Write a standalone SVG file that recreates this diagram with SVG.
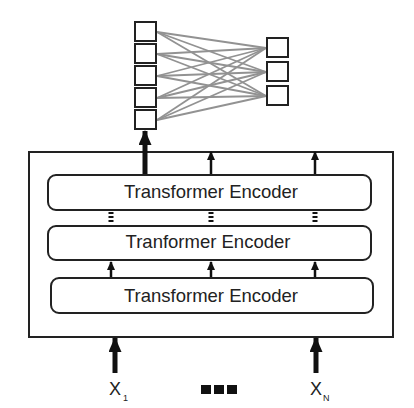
<svg xmlns="http://www.w3.org/2000/svg" width="414" height="408" viewBox="0 0 414 408">
<defs>
<style>
.box{fill:#fff;stroke:#222;stroke-width:2}
.enc{fill:#fff;stroke:#222;stroke-width:2}
.t{font-family:"Liberation Sans",Arial,sans-serif;font-size:18.5px;fill:#222;text-anchor:middle}
.lbl{font-family:"Liberation Sans",Arial,sans-serif;font-size:18px;fill:#222}
.sub{font-family:"Liberation Sans",Arial,sans-serif;font-size:9px;fill:#222}
.w{stroke:#929292;stroke-width:1.8;fill:none}
.sq{fill:#fff;stroke:#222;stroke-width:2}
.thin{stroke:#111;stroke-width:2.5}
.thick{stroke:#111;stroke-width:5}
.dash{stroke:#111;stroke-width:5;stroke-dasharray:2 2}
</style>
<marker id="hs" markerWidth="9" markerHeight="8" refX="8" refY="4" orient="auto" markerUnits="userSpaceOnUse"><path d="M0,0 L9,4 L0,8 Z" fill="#111"/></marker>
<marker id="hl" markerWidth="15" markerHeight="13" refX="14" refY="6.5" orient="auto" markerUnits="userSpaceOnUse"><path d="M0,0 L15,6.5 L0,13 Z" fill="#111"/></marker>
</defs>

<g id="outer"><rect class="box" x="29" y="152" width="364" height="185"/></g>

<g id="connectors">
<g id="weights">
<line class="w" x1="157" y1="32" x2="266" y2="48"/><line class="w" x1="157" y1="32" x2="266" y2="72"/><line class="w" x1="157" y1="32" x2="266" y2="96"/>
<line class="w" x1="157" y1="54" x2="266" y2="48"/><line class="w" x1="157" y1="54" x2="266" y2="72"/><line class="w" x1="157" y1="54" x2="266" y2="96"/>
<line class="w" x1="157" y1="76" x2="266" y2="48"/><line class="w" x1="157" y1="76" x2="266" y2="72"/><line class="w" x1="157" y1="76" x2="266" y2="96"/>
<line class="w" x1="157" y1="98" x2="266" y2="48"/><line class="w" x1="157" y1="98" x2="266" y2="72"/><line class="w" x1="157" y1="98" x2="266" y2="96"/>
<line class="w" x1="157" y1="120" x2="266" y2="48"/><line class="w" x1="157" y1="120" x2="266" y2="72"/><line class="w" x1="157" y1="120" x2="266" y2="96"/>
</g>
<line class="thick" x1="145" y1="175" x2="145" y2="131" marker-end="url(#hl)"/>
<line class="thin" x1="211" y1="175" x2="211" y2="152" marker-end="url(#hs)"/>
<line class="thin" x1="315" y1="175" x2="315" y2="152" marker-end="url(#hs)"/>
<line class="dash" x1="111" y1="212" x2="111" y2="224"/>
<line class="dash" x1="211" y1="212" x2="211" y2="224"/>
<line class="dash" x1="315" y1="212" x2="315" y2="224"/>
<line class="thin" x1="111" y1="278" x2="111" y2="262" marker-end="url(#hs)"/>
<line class="thin" x1="211" y1="278" x2="211" y2="262" marker-end="url(#hs)"/>
<line class="thin" x1="315" y1="278" x2="315" y2="262" marker-end="url(#hs)"/>
<line class="thick" x1="115" y1="373" x2="115" y2="338" marker-end="url(#hl)"/>
<line class="thick" x1="316" y1="373" x2="316" y2="338" marker-end="url(#hl)"/>
</g>

<g id="inputLayer">
<rect class="sq" x="135" y="22" width="21" height="19"/>
<rect class="sq" x="135" y="44" width="21" height="19"/>
<rect class="sq" x="135" y="66" width="21" height="19"/>
<rect class="sq" x="135" y="88" width="21" height="19"/>
<rect class="sq" x="135" y="110" width="21" height="19"/>
</g>
<g id="outputLayer">
<rect class="sq" x="267" y="38" width="21" height="19"/>
<rect class="sq" x="267" y="62" width="21" height="19"/>
<rect class="sq" x="267" y="86" width="21" height="19"/>
</g>

<g id="encoder3"><rect class="enc" x="48" y="175" width="323" height="35" rx="8"/><text class="t" x="211" y="198">Transformer Encoder</text></g>
<g id="encoder2"><rect class="enc" x="48" y="226" width="323" height="34" rx="8"/><text class="t" x="208" y="248">Tranformer Encoder</text></g>
<g id="encoder1"><rect class="enc" x="51" y="278" width="322" height="35" rx="8"/><text class="t" x="211" y="302">Transformer Encoder</text></g>

<g id="x1"><text class="lbl" x="109" y="395">X</text><text class="sub" x="123" y="401">1</text></g>
<g id="xn"><text class="lbl" x="310" y="395">X</text><text class="sub" x="323" y="401">N</text></g>
<g id="ellipsis">
<rect x="201" y="385" width="10" height="9" fill="#111"/>
<rect x="214" y="385" width="10" height="9" fill="#111"/>
<rect x="227" y="385" width="10" height="9" fill="#111"/>
</g>
</svg>
